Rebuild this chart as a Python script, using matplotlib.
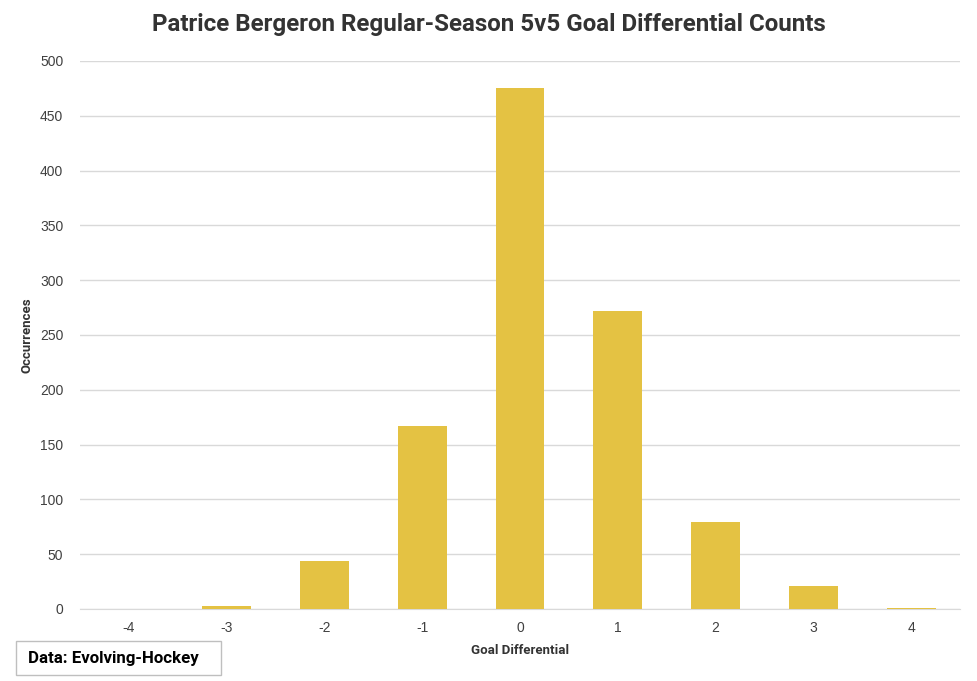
import matplotlib
matplotlib.use("Agg")
import matplotlib.pyplot as plt
from matplotlib.patches import Rectangle

# goal differential categories and counts
differentials = ["-4", "-3", "-2", "-1", "0", "1", "2", "3", "4"]
occurrences = [0, 3, 44, 167, 475, 272, 79, 21, 1]
y_ticks = [0, 50, 100, 150, 200, 250, 300, 350, 400, 450, 500]

bar_color = "#E4C243"
grid_color = "#D9D9D9"
tick_color = "#404040"

fig = plt.figure(figsize=(9.78, 6.81), dpi=100)
ax = fig.add_axes([80 / 978, 1 - 609 / 681, 880 / 978, 548 / 681])

x = range(len(differentials))
ax.bar(x, occurrences, width=0.5, color=bar_color, zorder=3)

ax.set_xlim(-0.5, len(differentials) - 0.5)
ax.set_ylim(0, 500)
ax.set_yticks(y_ticks)
ax.set_xticks(list(x))
ax.set_xticklabels(differentials)
ax.grid(axis="y", color=grid_color, linewidth=1, zorder=0)
for s in ["top", "right", "left"]:
    ax.spines[s].set_visible(False)
ax.spines["bottom"].set_color(grid_color)
ax.tick_params(length=0, labelsize=10, colors=tick_color)
ax.tick_params(axis="x", pad=9)
ax.tick_params(axis="y", pad=12)
for lab in ax.get_xticklabels() + ax.get_yticklabels():
    lab.set_family("Liberation Sans")

ax.set_xlabel("Goal Differential", fontsize=9.5, fontweight="bold",
              color="#333333", labelpad=6, family="Roboto")
ax.set_ylabel("Occurrences", fontsize=9.5, fontweight="bold",
              color="#333333", labelpad=5, family="Roboto")

fig.text(489 / 978, 1 - 25 / 681,
         "Patrice Bergeron Regular-Season 5v5 Goal Differential Counts",
         ha="center", va="center", fontsize=17.4, fontweight="bold",
         color="#333333", family="Roboto")

# source box in lower left
fig.patches.append(Rectangle((16 / 978, 1 - 675 / 681), 205 / 978, 34 / 681,
                             transform=fig.transFigure, fill=False,
                             edgecolor="#BFBFBF", linewidth=1))
fig.text(28 / 978, 1 - 658 / 681, "Data: Evolving-Hockey", ha="left",
         va="center", fontsize=12.2, fontweight="bold", color="black",
         family="Roboto")

fig.savefig("out.png", dpi=100)
